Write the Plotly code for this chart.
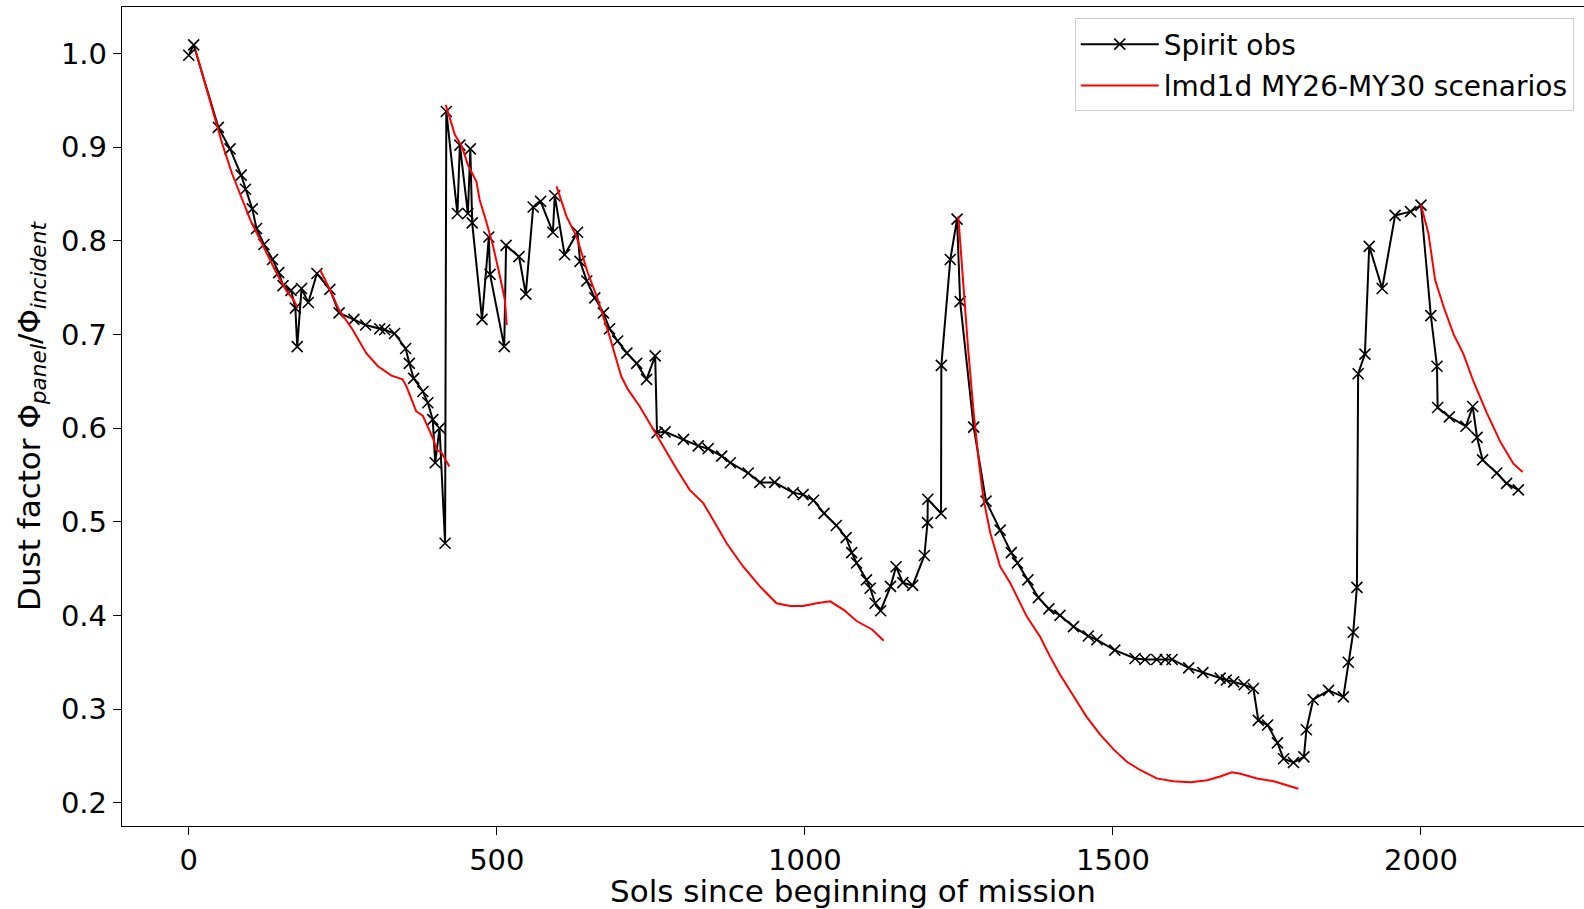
import plotly.graph_objects as go

# ---- Spirit observations (sol, dust factor) ----
obs_sol = [0, 8, 48, 67, 85, 92, 103, 110, 122, 136, 146, 153, 166, 173, 176, 183, 194, 208,
           229, 244, 268, 287, 310, 318, 334, 352, 358, 365, 380, 388, 396, 400, 407, 416,
           418, 436, 440, 453, 457, 460, 476, 487, 489, 512, 515, 536, 547, 559, 571, 591,
           594, 610, 631, 635, 646, 659, 673, 683, 696, 711, 727, 743, 757, 760, 773, 803,
           827, 843, 865, 879, 908, 927, 951, 981, 997, 1014, 1031, 1051, 1067, 1076, 1084,
           1100, 1106, 1114, 1123, 1139, 1148, 1159, 1175, 1194, 1199, 1199.5, 1221, 1221.5,
           1236, 1247, 1252, 1274, 1294, 1317, 1335, 1345, 1362, 1379, 1396, 1414, 1436,
           1460, 1474, 1503, 1536, 1552, 1571, 1585, 1596, 1623, 1646, 1674, 1684, 1696,
           1713, 1728, 1736, 1751, 1767, 1777, 1793, 1810, 1814, 1825, 1850, 1874, 1882,
           1890, 1896, 1898, 1909, 1916, 1937, 1958, 1983, 2000, 2016, 2026, 2027, 2046,
           2073, 2084, 2091, 2100, 2123, 2139, 2158]
obs_val = [0.998, 1.009, 0.921, 0.898, 0.870, 0.855, 0.834, 0.813, 0.796, 0.780, 0.766, 0.752,
           0.747, 0.728, 0.687, 0.749, 0.734, 0.765, 0.748, 0.723, 0.716, 0.710, 0.706, 0.705,
           0.701, 0.685, 0.669, 0.653, 0.639, 0.627, 0.609, 0.563, 0.600, 0.477, 0.938, 0.829,
           0.902, 0.829, 0.898, 0.819, 0.716, 0.804, 0.764, 0.687, 0.795, 0.783, 0.743, 0.836,
           0.842, 0.809, 0.848, 0.785, 0.809, 0.778, 0.757, 0.739, 0.723, 0.706, 0.693, 0.680,
           0.669, 0.652, 0.677, 0.595, 0.596, 0.588, 0.581, 0.578, 0.570, 0.563, 0.552, 0.542,
           0.542, 0.531, 0.529, 0.523, 0.509, 0.496, 0.483, 0.467, 0.456, 0.438, 0.429, 0.413,
           0.405, 0.431, 0.452, 0.435, 0.432, 0.464, 0.499, 0.524, 0.509, 0.667, 0.780, 0.823,
           0.735, 0.601, 0.522, 0.491, 0.467, 0.456, 0.438, 0.419, 0.407, 0.400, 0.388, 0.378,
           0.374, 0.363, 0.354, 0.353, 0.353, 0.353, 0.353, 0.344, 0.339, 0.333, 0.331, 0.329,
           0.326, 0.322, 0.288, 0.283, 0.264, 0.247, 0.243, 0.249, 0.278, 0.310, 0.320, 0.313,
           0.350, 0.382, 0.430, 0.658, 0.679, 0.794, 0.749, 0.827, 0.831, 0.838, 0.720, 0.666,
           0.622, 0.612, 0.602, 0.623, 0.590, 0.566, 0.552, 0.541, 0.534]

# ---- lmd1d model scenarios (separate segments) ----
seg1_sol = [11, 25, 40, 55, 70, 85, 100, 115, 130, 145, 160, 170, 177]
seg1_val = [1.003, 0.970, 0.935, 0.902, 0.872, 0.846, 0.822, 0.802, 0.782, 0.762, 0.745, 0.737, 0.728]
seg2_sol = [213, 229, 244, 266, 288, 307, 329, 347, 353, 369, 380, 397, 402, 410, 423]
seg2_val = [0.769, 0.748, 0.726, 0.705, 0.680, 0.666, 0.656, 0.652, 0.645, 0.618, 0.613, 0.588,
            0.577, 0.574, 0.559]
seg3_sol = [417, 432, 443, 453, 467, 472, 483, 494, 505, 513, 516]
seg3_val = [0.945, 0.913, 0.901, 0.881, 0.863, 0.844, 0.820, 0.794, 0.762, 0.737, 0.710]
seg4_sol = [597, 613, 629, 648, 662, 683, 702, 713, 732, 754, 773, 792, 813, 835, 851, 873,
            900, 927, 954, 976, 997, 1019, 1041, 1063, 1084, 1109, 1120, 1128]
seg4_val = [0.858, 0.826, 0.805, 0.765, 0.741, 0.698, 0.655, 0.641, 0.623, 0.598, 0.577, 0.556,
            0.534, 0.520, 0.502, 0.477, 0.452, 0.431, 0.413, 0.410, 0.410, 0.413, 0.415, 0.406,
            0.394, 0.385, 0.378, 0.373]
seg5_sol = [1249, 1257, 1265, 1274, 1282, 1290, 1301, 1317, 1333, 1360, 1382, 1398, 1414, 1436,
            1457, 1479, 1501, 1522, 1544, 1571, 1598, 1626, 1653, 1674, 1693, 1707, 1734, 1761,
            1783, 1801]
seg5_val = [0.826, 0.755, 0.684, 0.616, 0.566, 0.524, 0.488, 0.452, 0.435, 0.399, 0.377, 0.356,
            0.337, 0.314, 0.292, 0.273, 0.257, 0.244, 0.235, 0.226, 0.223, 0.222, 0.224, 0.228,
            0.2325, 0.231, 0.226, 0.223, 0.219, 0.215]
seg6_sol = [2000, 2012, 2023, 2037, 2053, 2069, 2085, 2107, 2129, 2150, 2165]
seg6_val = [0.838, 0.808, 0.758, 0.729, 0.700, 0.679, 0.650, 0.616, 0.585, 0.562, 0.553]

x_tick_vals = [0, 500, 1000, 1500, 2000]
y_tick_vals = [0.2, 0.3, 0.4, 0.5, 0.6, 0.7, 0.8, 0.9, 1.0]

segments = [(seg1_sol, seg1_val), (seg2_sol, seg2_val), (seg3_sol, seg3_val),
            (seg4_sol, seg4_val), (seg5_sol, seg5_val), (seg6_sol, seg6_val)]
model_x, model_y = [], []
for s, v in segments:
    model_x += list(s) + [None]
    model_y += list(v) + [None]

FONT = "DejaVu Sans"

fig = go.Figure()
fig.add_trace(go.Scatter(
    x=obs_sol, y=obs_val, mode="lines+markers", name="Spirit obs",
    line=dict(color="black", width=2),
    marker=dict(symbol="x-thin", size=11, color="black", line=dict(width=1.6, color="black")),
    legendgroup="a",
))
fig.add_trace(go.Scatter(
    x=model_x, y=model_y, mode="lines", name="lmd1d MY26-MY30 scenarios",
    line=dict(color="#ff0000", width=2), connectgaps=False,
    legendgroup="b",
))

fig.update_layout(
    width=1584, height=909,
    margin=dict(l=122, r=0, t=7, b=83),
    paper_bgcolor="white", plot_bgcolor="white",
    font=dict(family=FONT, size=29, color="black"),
    showlegend=True,
    legend=dict(
        x=0.993, y=0.986, xanchor="right", yanchor="top",
        bgcolor="white", bordercolor="#cccccc", borderwidth=1,
        font=dict(family=FONT, size=28, color="black"),
        tracegroupgap=2, itemwidth=78,
    ),
    xaxis=dict(
        range=[-108.4, 2264.6],
        tickmode="array", tickvals=x_tick_vals,
        ticks="outside", ticklen=8, tickwidth=1.3, tickcolor="black",
        showline=True, linecolor="black", linewidth=1.3, mirror=True,
        showgrid=False, zeroline=False,
        title=dict(text="Sols since beginning of mission", standoff=4,
                   font=dict(family=FONT, size=31)),
        tickfont=dict(family=FONT, size=29),
    ),
    yaxis=dict(
        range=[0.1752, 1.0495],
        tickmode="array", tickvals=y_tick_vals, tickformat=".1f",
        ticks="outside", ticklen=8, tickwidth=1.3, tickcolor="black",
        showline=True, linecolor="black", linewidth=1.3, mirror=False,
        showgrid=False, zeroline=False,
        title=dict(text="Dust factor Φ<sub><i>panel</i></sub>/Φ<sub><i>incident</i></sub>",
                   standoff=11, font=dict(family=FONT, size=31)),
        tickfont=dict(family=FONT, size=29),
    ),
)

fig.write_html("out.html")
